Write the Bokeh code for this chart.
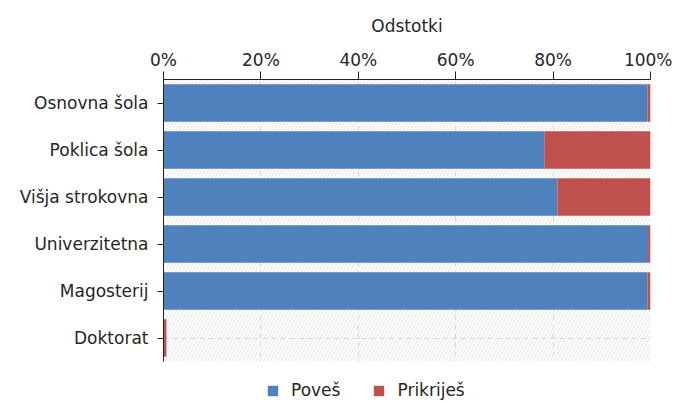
from bokeh.plotting import figure
from bokeh.models import (Range1d, FixedTicker, CustomJSTickFormatter,
                          BoxAnnotation, Legend, LegendItem, ColumnDataSource)
from bokeh.embed import file_html
from bokeh.resources import INLINE

categories = ["Osnovna šola", "Poklica šola", "Višja strokovna", "Univerzitetna", "Magosterij", "Doktorat"]
povesh = [99.4, 78.2, 80.9, 99.5, 99.4, 0.0]
prikrijesh = [0.6, 21.8, 19.1, 0.5, 0.6, 0.6]
series_names = ["Poveš", "Prikriješ"]
x_ticks = [0, 20, 40, 60, 80, 100]
colors = ["#4F81BD", "#C0504D"]

FONT = "DejaVu Sans"
TXT = "#262626"

# layout (pixels)
W, H = 672, 401
LEFT, RIGHT, TOP = 163, 22, 79
BAND_PX = 47.0                      # pixel height of one category band
n = len(categories)
pos = [n - 1 - i for i in range(n)]  # first category on top
frame_h = H - TOP
y_top = n - 0.5
y_bottom = y_top - frame_h / BAND_PX

p = figure(x_range=Range1d(0, 100), y_range=Range1d(y_bottom, y_top),
           x_axis_location="above", width=W, height=H,
           min_border_left=LEFT, min_border_right=RIGHT, min_border_top=TOP, min_border_bottom=0,
           output_backend="svg", toolbar_location=None)
p.outline_line_color = None

# hatched plot background over the category bands
bg = BoxAnnotation(bottom=-0.5, fill_color="white", fill_alpha=1, hatch_pattern="/",
                   hatch_color="#e4e4e4", hatch_scale=7, hatch_weight=1, line_color=None, level="image")
p.add_layout(bg)
# blank area below the bands (legend area)
mask = BoxAnnotation(top=-0.5, fill_color="white", fill_alpha=1, line_color=None, level="glyph")
p.add_layout(mask)

src = ColumnDataSource({"y": pos, "cat": categories, series_names[0]: povesh, series_names[1]: prikrijesh})
rs = p.hbar_stack(series_names, y="y", height=0.8, color=colors, source=src, line_color=None)

p.xgrid.ticker = FixedTicker(ticks=x_ticks)
p.xgrid.grid_line_color = "#d8d8d8"
p.xgrid.grid_line_dash = "5 4"
p.ygrid.grid_line_color = "#d8d8d8"
p.ygrid.grid_line_dash = "5 4"

xa = p.xaxis[0]
xa.ticker = FixedTicker(ticks=x_ticks)
xa.formatter = CustomJSTickFormatter(code="return tick + '%';")
xa.axis_label = "Odstotki"
xa.axis_label_text_font = FONT
xa.axis_label_text_font_size = "17px"
xa.axis_label_text_font_style = "normal"
xa.axis_label_text_color = TXT
xa.axis_label_standoff = 11
xa.major_label_text_font = FONT
xa.major_label_text_font_size = "17px"
xa.major_label_text_color = TXT
xa.major_label_standoff = 2
xa.major_tick_out = 8
xa.major_tick_in = 0
xa.minor_tick_out = 0
xa.minor_tick_in = 0
xa.axis_line_color = "#222222"
xa.major_tick_line_color = "#222222"

ya = p.yaxis[0]
ya.ticker = FixedTicker(ticks=pos)
ya.major_label_overrides = {pp: c for pp, c in zip(pos, categories)}
ya.bounds = (-0.5, n - 0.5)
ya.major_label_text_font = FONT
ya.major_label_text_font_size = "17px"
ya.major_label_text_color = TXT
ya.major_label_standoff = 9
ya.major_tick_out = 6
ya.major_tick_in = 0
ya.minor_tick_out = 0
ya.minor_tick_in = 0
ya.axis_line_color = "#222222"
ya.major_tick_line_color = "#222222"
p.ygrid.ticker = FixedTicker(ticks=pos)

legend = Legend(items=[LegendItem(label=series_names[i], renderers=[rs[i]]) for i in range(2)],
                orientation="horizontal", location=(103, 1), padding=0, margin=0,
                spacing=32, glyph_width=13, glyph_height=13, label_standoff=12,
                label_text_font=FONT, label_text_font_size="17px", label_text_color=TXT,
                background_fill_alpha=0, border_line_color=None)
p.add_layout(legend, "center")

open("out.html", "w").write(file_html(p, INLINE))
